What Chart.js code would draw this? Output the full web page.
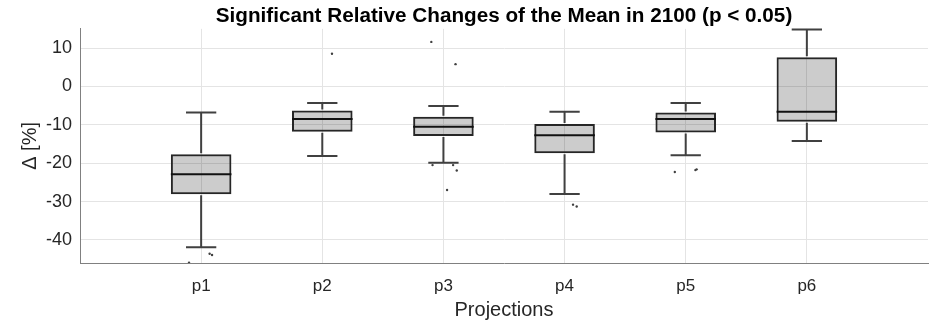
<!DOCTYPE html>
<html>
<head>
<meta charset="utf-8">
<script src="https://cdn.jsdelivr.net/npm/chart.js@4.4.1/dist/chart.umd.min.js"></script>
<style>
  html, body { margin: 0; padding: 0; background: #fff; overflow: hidden; }
  #wrap { width: 932px; height: 322px; }
</style>
</head>
<body>
<div id="wrap"><canvas id="myChart"></canvas></div>
<script>
// box plot statistics per projection (values in %)
const categories = ["p1", "p2", "p3", "p4", "p5", "p6"];
const whiskerHigh = [-6.8, -4.3, -5.1, -6.6, -4.3, 14.8];
const q3 = [-17.7, -6.3, -7.9, -9.8, -6.8, 7.6];
const median = [-22.9, -8.5, -10.5, -12.7, -8.5, -6.6];
const q1 = [-28.1, -11.8, -12.9, -17.4, -12.0, -9.2];
const whiskerLow = [-41.9, -18.1, -19.9, -28.0, -17.9, -14.2];

// outliers: which box, value, and the small jitter used in the plot
const outlierBox = [0, 0, 0, 1, 2, 2, 2, 2, 2, 2, 3, 3, 4, 4, 4];
const outlierValue = [-43.6, -43.9, -45.9, 8.5, 11.6, 5.8, -20.5, -20.5, -21.9, -27.0, -30.8, -31.3, -22.3, -21.8, -21.6];
const outlierJitter = [0.07, 0.09, -0.1, 0.08, -0.1, 0.1, -0.09, 0.08, 0.11, 0.03, 0.07, 0.1, -0.09, 0.08, 0.09];

const yTicks = [-40, -30, -20, -10, 0, 10];
const yMin = -46;
const yMax = 15;

const FONT = "'Liberation Sans', Arial, Helvetica, sans-serif";

const whiskers = {
  id: 'whiskers',
  afterDatasetsDraw(chart) {
    const ctx = chart.ctx;
    const x = chart.scales.x;
    const y = chart.scales.y;
    const cap = x.getPixelForValue(1.125) - x.getPixelForValue(1);
    const half = x.getPixelForValue(1.25) - x.getPixelForValue(1);
    ctx.save();
    ctx.lineWidth = 2;
    categories.forEach((c, i) => {
      const px = x.getPixelForValue(i + 1);
      ctx.strokeStyle = '#404040';
      ctx.beginPath();
      ctx.moveTo(px, y.getPixelForValue(q3[i]) - 1);
      ctx.lineTo(px, y.getPixelForValue(whiskerHigh[i]));
      ctx.moveTo(px - cap, y.getPixelForValue(whiskerHigh[i]));
      ctx.lineTo(px + cap, y.getPixelForValue(whiskerHigh[i]));
      ctx.moveTo(px, y.getPixelForValue(q1[i]) + 1);
      ctx.lineTo(px, y.getPixelForValue(whiskerLow[i]));
      ctx.moveTo(px - cap, y.getPixelForValue(whiskerLow[i]));
      ctx.lineTo(px + cap, y.getPixelForValue(whiskerLow[i]));
      ctx.stroke();
      ctx.strokeStyle = '#111';
      ctx.beginPath();
      ctx.moveTo(px - half, y.getPixelForValue(median[i]));
      ctx.lineTo(px + half, y.getPixelForValue(median[i]));
      ctx.stroke();
    });
    ctx.restore();
  }
};

// centre the title over the plot area, as in the original figure
const titleOverPlot = {
  id: 'titleOverPlot',
  afterLayout(chart) {
    const t = chart.titleBlock;
    if (t) {
      t.left = chart.chartArea.left;
      t.right = chart.chartArea.right;
      t.width = t.right - t.left;
    }
  }
};

const boxData = categories.map((c, i) => ({ x: i + 1, y: [q1[i], q3[i]] }));
const outlierData = outlierValue.map((v, i) => ({ x: outlierBox[i] + 1 + outlierJitter[i], y: v }));

const config = {
  type: 'scatter',
  data: {
    datasets: [
      {
        type: 'bar',
        label: 'box',
        data: boxData,
        backgroundColor: 'rgba(0,0,0,0.2)',
        borderColor: '#262626',
        borderWidth: 2,
        borderSkipped: false,
        barPercentage: 0.5,
        categoryPercentage: 1
      },
      {
        type: 'scatter',
        label: 'outliers',
        data: outlierData,
        pointRadius: 1.2,
        pointBackgroundColor: '#404040',
        pointBorderWidth: 0
      }
    ]
  },
  options: {
    responsive: true,
    maintainAspectRatio: false,
    animation: false,
    layout: { padding: 0 },
    plugins: {
      legend: { display: false },
      tooltip: { enabled: false },
      title: {
        display: true,
        text: 'Significant Relative Changes of the Mean in 2100 (p < 0.05)',
        color: '#000',
        font: { family: FONT, size: 20.7, weight: 'bold' },
        padding: { top: 4, bottom: 0 }
      }
    },
    scales: {
      x: {
        type: 'linear',
        min: 0,
        max: 7,
        offset: false,
        afterBuildTicks: (scale) => {
          scale.ticks = categories.map((c, i) => ({ value: i + 1 }));
        },
        afterFit: (scale) => { scale.height = 59; },
        ticks: {
          callback: (v) => categories[v - 1] || '',
          color: '#262626',
          font: { family: FONT, size: 17 },
          padding: 13,
          maxRotation: 0
        },
        grid: { color: '#e4e4e4', drawTicks: false, offset: false },
        border: { color: '#808080', width: 1 },
        title: {
          display: true,
          text: 'Projections',
          color: '#262626',
          font: { family: FONT, size: 20 },
          padding: { top: 0, bottom: 0 }
        }
      },
      y: {
        min: yMin,
        max: yMax,
        afterBuildTicks: (scale) => {
          scale.ticks = yTicks.map(v => ({ value: v }));
        },
        afterFit: (scale) => { scale.width = 80; },
        ticks: {
          color: '#262626',
          font: { family: FONT, size: 18 },
          padding: 8
        },
        grid: { color: '#e4e4e4', drawTicks: false },
        border: { color: '#808080', width: 1 },
        title: {
          display: true,
          text: 'Δ [%]',
          color: '#262626',
          font: { family: FONT, size: 20 },
          padding: { top: 18, bottom: 0 }
        }
      }
    }
  },
  plugins: [titleOverPlot, whiskers]
};

new Chart(document.getElementById('myChart'), config);
</script>
</body>
</html>
